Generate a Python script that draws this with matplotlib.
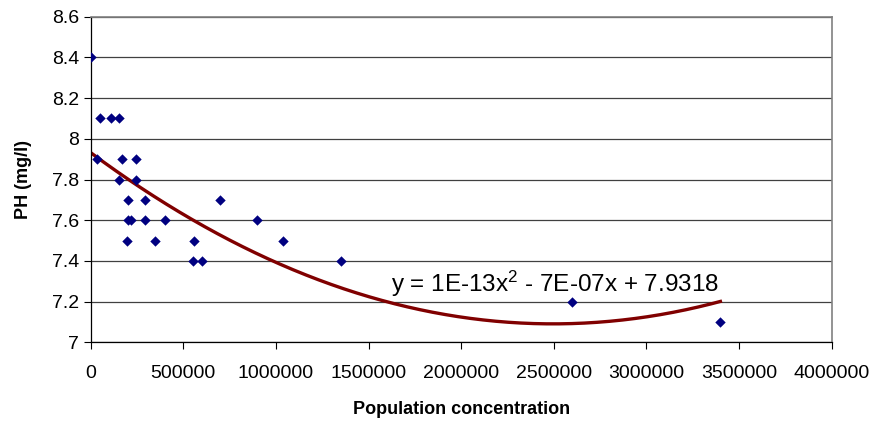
import matplotlib
matplotlib.use('Agg')
import matplotlib.pyplot as plt
import numpy as np

plt.rcParams['font.family'] = ['Liberation Sans', 'DejaVu Sans']
plt.rcParams['mathtext.fontset'] = 'custom'
plt.rcParams['mathtext.rm'] = 'Liberation Sans'
plt.rcParams['mathtext.it'] = 'Liberation Sans'

# population vs PH
population = [0, 35000, 50000, 110000, 150000, 170000, 245000, 150000, 245000,
              200000, 295000, 700000, 200000, 215000, 295000, 400000, 900000,
              195000, 345000, 560000, 1040000, 550000, 600000, 1350000,
              2600000, 3400000]
ph = [8.4, 7.9, 8.1, 8.1, 8.1, 7.9, 7.9, 7.8, 7.8,
      7.7, 7.7, 7.7, 7.6, 7.6, 7.6, 7.6, 7.6,
      7.5, 7.5, 7.5, 7.5, 7.4, 7.4, 7.4,
      7.2, 7.1]

# trendline coefficients (Excel poly 2), refined from the drawn curve
trend_coef = [1.35e-13, -6.74e-07, 7.9318]
trend_label = r'y = 1E-13x$^2$ - 7E-07x + 7.9318'

fig = plt.figure(figsize=(8.75, 4.23), dpi=100)
ax = fig.add_axes([0.1037, 0.1908, 0.8466, 0.7697])

xs = np.linspace(0, max(population), 200)
ax.plot(xs, np.polyval(trend_coef, xs), color='#800000', lw=2.4, zorder=2)
ax.scatter(population, ph, marker='D', s=28, color='#000080', zorder=3, linewidths=0)

ax.text(1.62e6, 7.25, trend_label, fontsize=17.5, va='baseline')

ax.set_xlim(0, 4000000)
ax.set_ylim(7, 8.6)
ax.set_xticks(np.arange(0, 4000001, 500000))
ax.set_xticklabels([str(v) for v in range(0, 4000001, 500000)])
ax.set_yticks([7, 7.2, 7.4, 7.6, 7.8, 8, 8.2, 8.4, 8.6])
ax.set_yticklabels(['7', '7.2', '7.4', '7.6', '7.8', '8', '8.2', '8.4', '8.6'])
ax.tick_params(labelsize=14, length=5, width=0.8, color='#000000')
ax.tick_params(axis='x', pad=11)

ax.yaxis.grid(True, color='#404040', lw=0.9)
ax.set_axisbelow(True)
for s in ['left', 'bottom']:
    ax.spines[s].set_color('#000000')
    ax.spines[s].set_linewidth(0.9)
for s in ['top', 'right']:
    ax.spines[s].set_color('#808080')
    ax.spines[s].set_linewidth(1.2)

ax.set_xlabel('Population concentration', fontsize=13, fontweight='bold', labelpad=14)
ax.set_ylabel('PH (mg/l)', fontsize=13, fontweight='bold', labelpad=14)

fig.savefig('out.png', dpi=100)
